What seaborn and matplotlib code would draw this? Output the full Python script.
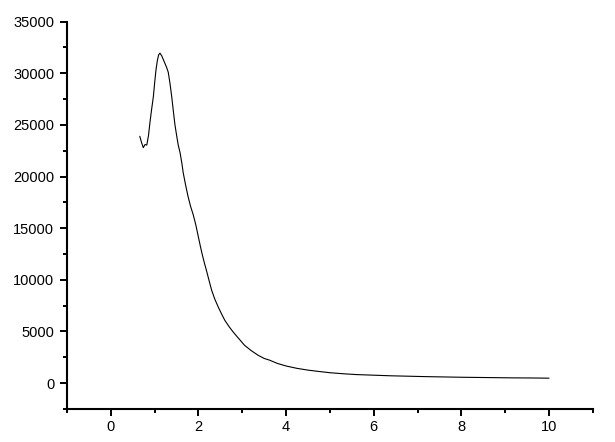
import matplotlib
matplotlib.use("Agg")
import matplotlib.pyplot as plt
import numpy as np
import pandas as pd
import seaborn as sns
from matplotlib.ticker import MultipleLocator

# values
x_vals = [0.66, 0.70, 0.74, 0.78, 0.82, 0.86, 0.89, 0.93, 0.97, 1.00, 1.03, 1.06,
          1.09, 1.12, 1.16, 1.20, 1.23, 1.27, 1.31, 1.35, 1.39, 1.43, 1.46, 1.50,
          1.54, 1.58, 1.62, 1.65, 1.70, 1.76, 1.82, 1.88, 1.94, 1.99, 2.04, 2.08,
          2.13, 2.18, 2.24, 2.30, 2.37, 2.45, 2.52, 2.60, 2.70, 2.79, 2.90, 3.05,
          3.20, 3.36, 3.50, 3.62, 3.80, 4.00, 4.25, 4.50, 4.75, 5.00, 5.30, 5.60,
          6.00, 6.40, 6.80, 7.20, 7.60, 8.00, 8.40, 8.80, 9.20, 9.60, 10.00]
y_vals = [23900, 23300, 22800, 23100, 23050, 24000, 25160, 26500, 27740, 29100, 30330, 31200,
          31780, 31950, 31700, 31300, 31000, 30600, 30100, 29000, 27700, 26200, 25100, 24000,
          23000, 22300, 21300, 20400, 19300, 18100, 17100, 16300, 15300, 14300, 13300, 12550,
          11700, 10930, 9950, 8990, 8150, 7370, 6750, 6080, 5450, 4950, 4400, 3660,
          3150, 2690, 2380, 2220, 1900, 1650, 1420, 1250, 1120, 1000, 900, 820,
          760, 700, 660, 620, 590, 560, 540, 520, 500, 490, 470]

df = pd.DataFrame({"x": x_vals, "y": y_vals})

sns.set_style("ticks")
plt.rcParams["font.family"] = ["Liberation Sans", "DejaVu Sans"]

fig = plt.figure(figsize=(6.15, 4.42), dpi=100)
ax = fig.add_axes([0.109, 0.075, 0.855, 0.876])

sns.lineplot(data=df, x="x", y="y", sort=False, color="black", linewidth=0.8, ax=ax)

ax.set_xlim(-1, 11)
ax.set_ylim(-2500, 35000)
ax.xaxis.set_major_locator(MultipleLocator(2))
ax.xaxis.set_minor_locator(MultipleLocator(1))
ax.yaxis.set_major_locator(MultipleLocator(5000))
ax.yaxis.set_minor_locator(MultipleLocator(2500))
ax.set_xlabel("")
ax.set_ylabel("")

for side in ["top", "right"]:
    ax.spines[side].set_visible(False)
for side in ["left", "bottom"]:
    ax.spines[side].set_linewidth(1.5)
    ax.spines[side].set_color("black")

ax.tick_params(which="major", length=4.7, width=1.4, color="black",
               labelsize=10.5, labelcolor="black", pad=4.5)
ax.tick_params(which="minor", length=3, width=1.4, color="black")
ax.tick_params(axis="x", which="major", pad=3.5)

fig.savefig("out.png", dpi=100)
